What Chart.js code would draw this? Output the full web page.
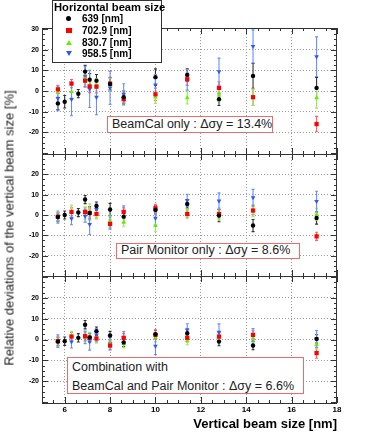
<!DOCTYPE html>
<html>
<head>
<meta charset="utf-8">
<script src="https://cdn.jsdelivr.net/npm/chart.js@4.4.0/dist/chart.umd.min.js"></script>
<style>
  html, body { margin: 0; padding: 0; background: #fff; }
  #wrap { position: relative; width: 374px; height: 434px; font-family: "Liberation Sans", Arial, sans-serif; }
  #c { position: absolute; left: 0; top: 0; }
  .note { position: absolute; background: #fff; border: 1.5px solid #ee6b6b; box-sizing: border-box;
          font-size: 12.5px; color: #222; padding-left: 4px; white-space: nowrap; }
  #ytitle { position: absolute; left: 9px; top: 228px; transform: translate(-50%, -50%) rotate(-90deg);
            white-space: nowrap; font-size: 13px; font-weight: normal; color: #222; }
  #leg { position: absolute; left: 52px; top: 0; width: 110px; height: 63px; background: #fff;
         border: 1.5px solid #333; box-sizing: border-box; }
  #leg .t { position: absolute; left: 1px; top: 0px; font-size: 11.2px; font-weight: bold; white-space: nowrap; }
  #leg .row { position: absolute; left: 0; width: 100%; height: 11px; }
  #leg .row span { position: absolute; left: 29px; top: 0; font-size: 10px; font-weight: bold; line-height: 11px; white-space: nowrap; }
  #leg .mk { position: absolute; left: 13px; top: 3px; }
</style>
</head>
<body>
<div id="wrap">
  <canvas id="c" width="374" height="434"></canvas>
  <div id="ytitle">Relative deviations of the vertical beam size [%]</div>
  <div id="leg">
    <div class="t">Horizontal beam size</div>
    <div class="row" style="top:12px"><div class="mk" style="width:5px;height:5px;border-radius:50%;background:#000"></div><span>639 [nm]</span></div>
    <div class="row" style="top:24px"><div class="mk" style="width:6px;height:5px;background:#ff0000"></div><span>702.9 [nm]</span></div>
    <div class="row" style="top:36px"><div class="mk" style="width:0;height:0;border-left:3px solid transparent;border-right:3px solid transparent;border-bottom:5px solid #66ee00"></div><span>830.7 [nm]</span></div>
    <div class="row" style="top:47px"><div class="mk" style="width:0;height:0;border-left:3px solid transparent;border-right:3px solid transparent;border-top:5px solid #3355ff"></div><span>958.5 [nm]</span></div>
  </div>
  <div class="note" style="left:107px;top:116px;width:166px;height:17px;line-height:14px">BeamCal only : Δσy = 13.4%</div>
  <div class="note" style="left:116px;top:243px;width:184px;height:16px;line-height:13px">Pair Monitor only : Δσy = 8.6%</div>
  <div class="note" style="left:67px;top:357px;width:237px;height:37px;line-height:19px;padding-top:0">Combination with<br>BeamCal and Pair Monitor : Δσy = 6.6%</div>
</div>
<script>
// vertical beam size [nm] for each horizontal beam size
const xBlack = [5.7, 6.0, 6.6, 6.9, 7.1, 7.4, 8.0, 8.6, 10.0, 11.4, 12.8, 14.3, 17.1];
const xOther = [5.7, 6.3, 6.9, 7.1, 7.4, 8.0, 8.6, 10.0, 11.4, 12.8, 14.3, 17.1];

// panel 1 : BeamCal only
const black1 = [-6, -5.2, -1.3, 9.4, 5.5, 5, 3.4, -3, 6.7, 7.8, -4, 7.3, 1.5];
const black1Err = [3, 3, 2, 3, 3, 3, 3, 3, 4, 3, 3, 6, 5];
const red1 = [0.8, 3.6, 5, 2.2, 2.1, 3.6, -4, -1.6, 5.7, 1.5, -3, -16];
const red1Err = [2, 2, 3, 3, 3, 3, 2, 3, 3, 3, 4, 3.7];
const green1 = [-0.5, -0.3, 6, 3, 3, 3, -4, -3, -3.3, -2, -3, -3.3];
const green1Err = [3, 3, 3, 3, 3, 3, 3, 3, 3, 3, 4, 5];
const blue1 = [-3.5, -4, 7, 1, -3, 1.5, -1.5, 3, 5.4, 9.4, 21.6, 16.6];
const blue1Err = [6, 8, 5, 9, 8.5, 8, 5, 5, 5, 6.5, 8, 9.6];

// panel 2 : Pair Monitor only
const black2 = [-1, 0, 1.2, 7.6, 1, 4.4, 2.7, -0.8, 2.5, 5.4, -0.3, -5.2, -1.5];
const black2Err = [2, 2, 2, 2, 3, 2, 3, 3, 2, 2, 3, 3, 3];
const red2 = [-0.8, 1.5, 1.5, 1, 0.5, -4.4, 1.5, 3.3, 0.5, 0.5, 2.2, -10.5];
const red2Err = [2, 2, 2, 2, 2, 2, 2, 2, 2, 2, 2, 2];
const green2 = [-0.8, 1.8, 1, 1.5, 1, -3, -3.5, -5, 1, 0.5, 2.2, 0.3];
const green2Err = [2, 3, 3, 4, 3, 3, 2, 3, 2, 3, 3, 3];
const blue2 = [-1, -1.8, -0.5, -4.6, 2.8, -4, 1.5, -1.5, 7.2, 6.9, 8.6, 6.7];
const blue2Err = [3, 3, 3, 5, 3, 3, 3, 4, 3, 4, 4, 5];

// panel 3 : combination
const black3 = [-1, -0.8, 0.8, 7.1, 1, 4, 1.9, -1.4, 2.5, 3, -1, -2.9, 0.3];
const black3Err = [2, 2, 2, 2, 2, 2, 2, 2, 2, 2, 2, 2, 2];
const red3 = [-0.8, 1.4, 1.6, 0.8, 0.5, -2.9, 0.8, 2.2, 0.8, 1.4, 2.2, -6.5];
const red3Err = [2, 2, 2, 2, 2, 2, 2, 2, 2, 2, 2, 2.5];
const green3 = [-1, 1.8, 1, 1.5, 0.5, -2, -2, 1, -0.5, 1, 0.5, -2.5];
const green3Err = [2, 2, 2, 2, 2, 2, 2, 2, 2, 2, 2, 2];
const blue3 = [-0.8, -1.1, 1, -1.1, 2.2, -2, 0.8, -3.2, 4.6, 3.5, 2.2, 0.3];
const blue3Err = [3, 3, 3, 4, 3, 3, 3, 4, 3, 4, 3, 4];

const xTicks = [6, 8, 10, 12, 14, 16, 18];
const yTicks = [-30, -20, -10, 0, 10, 20, 30];

const FONT = '"Liberation Sans", Arial, sans-serif';

const styles = {
  black: { color: '#000000', err: '#333333', pointStyle: 'circle', radius: 2.2, rotation: 0 },
  red:   { color: '#ff0000', err: '#ff6060', pointStyle: 'rect', radius: 3.0, rotation: 0 },
  green: { color: '#66ee00', err: '#90f050', pointStyle: 'triangle', radius: 2.7, rotation: 0 },
  blue:  { color: '#3355ff', err: '#6a8cff', pointStyle: 'triangle', radius: 2.7, rotation: 180 }
};

function makeSet(name, xs, ys, errs, axis, order) {
  const st = styles[name];
  return {
    label: name + axis,
    data: xs.map((x, i) => ({ x: x, y: ys[i] })),
    errors: errs,
    errColor: st.err,
    yAxisID: axis,
    order: order,
    backgroundColor: st.color,
    borderColor: st.color,
    borderWidth: 0,
    pointStyle: st.pointStyle,
    pointRadius: st.radius,
    pointHoverRadius: st.radius,
    pointRotation: st.rotation,
    showLine: false
  };
}

const datasets = [
  makeSet('black', xBlack, black1, black1Err, 'y1', 0),
  makeSet('red', xOther, red1, red1Err, 'y1', 1),
  makeSet('green', xOther, green1, green1Err, 'y1', 2),
  makeSet('blue', xOther, blue1, blue1Err, 'y1', 3),
  makeSet('black', xBlack, black2, black2Err, 'y2', 0),
  makeSet('red', xOther, red2, red2Err, 'y2', 1),
  makeSet('green', xOther, green2, green2Err, 'y2', 2),
  makeSet('blue', xOther, blue2, blue2Err, 'y2', 3),
  makeSet('black', xBlack, black3, black3Err, 'y3', 0),
  makeSet('red', xOther, red3, red3Err, 'y3', 1),
  makeSet('green', xOther, green3, green3Err, 'y3', 2),
  makeSet('blue', xOther, blue3, blue3Err, 'y3', 3)
];

// error bars, drawn with the panel's own y scale
const errorBars = {
  id: 'errorBars',
  beforeDatasetsDraw(chart) {
    const ctx = chart.ctx;
    chart.data.datasets.forEach((ds, i) => {
      const meta = chart.getDatasetMeta(i);
      const ys = chart.scales[ds.yAxisID];
      ctx.save();
      ctx.strokeStyle = ds.errColor;
      ctx.lineWidth = 1.1;
      meta.data.forEach((pt, j) => {
        const v = ds.data[j].y, e = ds.errors[j];
        const y0 = ys.getPixelForValue(v - e), y1 = ys.getPixelForValue(v + e);
        ctx.beginPath();
        ctx.moveTo(pt.x, y0); ctx.lineTo(pt.x, y1);
        ctx.moveTo(pt.x - 1.5, y0); ctx.lineTo(pt.x + 1.5, y0);
        ctx.moveTo(pt.x - 1.5, y1); ctx.lineTo(pt.x + 1.5, y1);
        ctx.stroke();
      });
      ctx.restore();
    });
  }
};

// panel frames + ROOT-like inward tick marks
const frames = {
  id: 'frames',
  beforeDatasetsDraw(chart) {
    const ctx = chart.ctx;
    const a = chart.chartArea;
    const xs = chart.scales.x;
    ctx.save();
    ctx.strokeStyle = '#333';
    ctx.lineWidth = 1;
    ['y1', 'y2', 'y3'].forEach(id => {
      const s = chart.scales[id];
      ctx.strokeRect(a.left + 0.5, s.top + 0.5, a.right - a.left - 1, s.bottom - s.top);
      ctx.beginPath();
      for (let v = -30; v <= 30; v += 2.5) {
        const py = Math.round(s.getPixelForValue(v)) + 0.5;
        const len = (v % 10 === 0) ? 6 : 3;
        ctx.moveTo(a.left, py); ctx.lineTo(a.left + len, py);
        ctx.moveTo(a.right, py); ctx.lineTo(a.right - len, py);
      }
      for (let v = 5; v <= 18; v += 0.5) {
        const px = Math.round(xs.getPixelForValue(v)) + 0.5;
        const len = (v % 2 === 0) ? 6 : 3;
        ctx.moveTo(px, s.bottom); ctx.lineTo(px, s.bottom - len);
        ctx.moveTo(px, s.top); ctx.lineTo(px, s.top + len);
      }
      ctx.stroke();
    });
    ctx.restore();
  }
};

function yAxis(weight, min, max, hideTop) {
  return {
    type: 'linear',
    position: 'left',
    stack: 'panels',
    stackWeight: weight,
    min: min,
    max: max,
    afterFit: s => { s.width = 42; },
    afterBuildTicks: s => { s.ticks = yTicks.map(v => ({ value: v })); },
    border: { display: false, dash: [1, 2] },
    grid: {
      drawTicks: false,
      color: c => (Math.abs(c.tick.value) === 30 ? 'rgba(0,0,0,0)' : '#9a9a9a')
    },
    ticks: {
      autoSkip: false,
      padding: 3,
      color: '#000',
      font: { family: FONT, size: 7, weight: 'bold' },
      callback: v => (v === -30 || (hideTop && v === 30)) ? '' : v
    }
  };
}

new Chart(document.getElementById('c'), {
  type: 'scatter',
  data: { datasets: datasets },
  options: {
    responsive: false,
    animation: false,
    layout: { padding: { top: 28, right: 37, left: 0, bottom: 0 } },
    plugins: { legend: { display: false }, tooltip: { enabled: false } },
    scales: {
      x: {
        type: 'linear',
        min: 5,
        max: 18,
        afterFit: s => { s.height = 31; },
        afterBuildTicks: s => { s.ticks = xTicks.map(v => ({ value: v })); },
        border: { display: false, dash: [1, 2] },
        grid: { drawTicks: false, color: c => (c.tick.value === 18 ? 'rgba(0,0,0,0)' : '#9a9a9a') },
        ticks: { autoSkip: false, padding: 2, color: '#000', maxRotation: 0, font: { family: FONT, size: 8, weight: 'bold' } },
        title: {
          display: true,
          text: 'Vertical beam size [nm]',
          align: 'end',
          color: '#000',
          padding: { top: 0, bottom: 2 },
          font: { family: FONT, size: 13, weight: 'bold' }
        }
      },
      y3: yAxis(127, -30.5, 30.5, true),
      y2: yAxis(122, -30, 30, true),
      y1: yAxis(126, -30.5, 30.5, false)
    }
  },
  plugins: [errorBars, frames]
});
</script>
</body>
</html>
